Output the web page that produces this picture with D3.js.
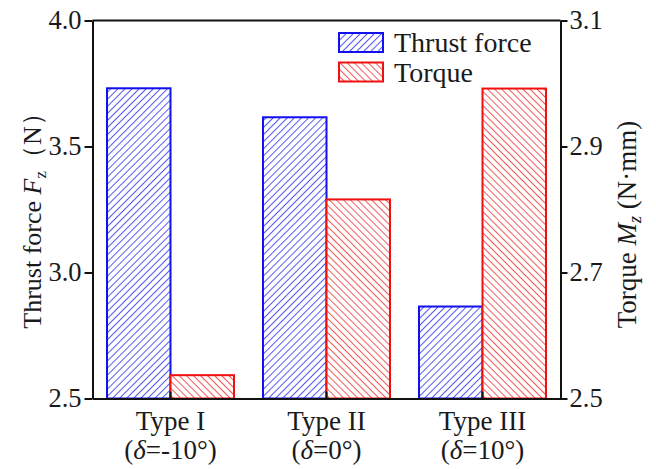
<!DOCTYPE html>
<html>
<head>
<meta charset="utf-8">
<script src="https://cdn.jsdelivr.net/npm/d3@7/dist/d3.min.js"></script>
<style>
  html, body { margin: 0; padding: 0; background: #fff; }
  svg { display: block; }
</style>
</head>
<body>
<svg id="chart" width="656" height="469" font-family="Liberation Serif, Times New Roman, serif"></svg>
<script>
// Drill-point types and their angle δ
const categories = ["Type I", "Type II", "Type III"];
const deltaLabels = ["-10°", "0°", "10°"];

// Series
const seriesNames = ["Thrust force", "Torque"];
const thrustForce = [3.731, 3.616, 2.865];   // N
const torque = [2.537, 2.816, 2.992];        // N·mm

// Tick labels
const leftTicks = [2.5, 3.0, 3.5, 4.0];
const rightTicks = [2.5, 2.7, 2.9, 3.1];

const FONT = "Liberation Serif, Times New Roman, serif";
const INK = "#1a1a1a";
const colors = { "Thrust force": "#1010f0", "Torque": "#f01010" };

const svg = d3.select("#chart");
const L = 92.5, R = 560.5, T = 20.5, B = 398.5;

const x = d3.scaleBand().domain(categories).range([L, R])
  .paddingInner(0.186).paddingOuter(0.093);
const xs = d3.scaleBand().domain(seriesNames).range([0, x.bandwidth()]);
const yL = d3.scaleLinear().domain([2.5, 4.0]).range([B, T]);
const yR = d3.scaleLinear().domain([2.5, 3.1]).range([B, T]);

// Hatch patterns: "/" for thrust force, "\" for torque
const defs = svg.append("defs");
function hatch(id, color, angle) {
  const p = defs.append("pattern").attr("id", id)
    .attr("patternUnits", "userSpaceOnUse")
    .attr("width", 5).attr("height", 5)
    .attr("patternTransform", `rotate(${angle})`);
  p.append("rect").attr("width", 5).attr("height", 5).attr("fill", "#fff");
  p.append("line").attr("x1", 0).attr("y1", 0).attr("x2", 0).attr("y2", 5)
    .attr("stroke", color).attr("stroke-width", 1.4);
}
hatch("hatch-thrust", colors["Thrust force"], 45);
hatch("hatch-torque", colors["Torque"], -45);
const fillOf = { "Thrust force": "url(#hatch-thrust)", "Torque": "url(#hatch-torque)" };

// Bars
const rows = categories.map((c, i) => ({ c, v: [
  { s: "Thrust force", val: thrustForce[i], y: yL },
  { s: "Torque", val: torque[i], y: yR }
]}));

const groups = svg.append("g").selectAll("g").data(rows).join("g")
  .attr("transform", d => `translate(${x(d.c)},0)`);
groups.selectAll("rect").data(d => d.v).join("rect")
  .attr("x", d => xs(d.s))
  .attr("width", xs.bandwidth())
  .attr("y", d => d.y(d.val))
  .attr("height", d => B - d.y(d.val))
  .attr("fill", d => fillOf[d.s])
  .attr("stroke", d => colors[d.s])
  .attr("stroke-width", 2);

// Axes
const axisStyle = g => {
  g.attr("font-family", FONT).attr("font-size", 26.5);
  g.selectAll(".domain, .tick line").attr("stroke", "#111").attr("stroke-width", 2);
  g.selectAll(".tick text").attr("fill", INK);
};

svg.append("g").attr("transform", `translate(${L},0)`)
  .call(d3.axisLeft(yL).tickValues(leftTicks).tickFormat(d3.format(".1f"))
    .tickSize(8).tickSizeOuter(0).tickPadding(3))
  .call(axisStyle);

svg.append("g").attr("transform", `translate(${R},0)`)
  .call(d3.axisRight(yR).tickValues(rightTicks).tickFormat(d3.format(".1f"))
    .tickSize(7).tickSizeOuter(0).tickPadding(2))
  .call(axisStyle);

const xAxis = svg.append("g").attr("transform", `translate(0,${B})`)
  .call(d3.axisBottom(x).tickSize(-7).tickSizeOuter(0).tickFormat(""));
xAxis.selectAll(".domain, .tick line").attr("stroke", "#111").attr("stroke-width", 2);

// Top frame line
svg.append("line").attr("x1", L).attr("x2", R).attr("y1", T).attr("y2", T)
  .attr("stroke", "#111").attr("stroke-width", 2);

// Category labels (two lines)
const catLab = svg.append("g").attr("font-family", FONT).attr("font-size", 27).attr("fill", INK)
  .selectAll("text").data(categories).join("text")
  .attr("text-anchor", "middle");
catLab.append("tspan").attr("y", 430).attr("x", d => x(d) + x.bandwidth() / 2).text(d => d);
catLab.each(function(d, i) {
  const t = d3.select(this).append("tspan").attr("y", 459).attr("x", x(d) + x.bandwidth() / 2);
  t.append("tspan").text("(");
  t.append("tspan").attr("font-style", "italic").text("δ");
  t.append("tspan").text("=" + deltaLabels[i] + ")");
});

// Left axis title
const lt = svg.append("text")
  .attr("transform", `translate(41,${(T + B) / 2 + 5}) rotate(-90)`)
  .attr("text-anchor", "middle").attr("font-family", FONT).attr("font-size", 26).attr("fill", INK);
lt.append("tspan").text("Thrust force ");
lt.append("tspan").attr("font-style", "italic").text("F");
lt.append("tspan").attr("dy", 5).attr("font-size", 17).text("z");
lt.append("tspan").attr("dy", -5).text("（N）");

// Right axis title
const rt = svg.append("text")
  .attr("transform", `translate(636,${(T + B) / 2 + 15}) rotate(-90)`)
  .attr("text-anchor", "middle").attr("font-family", FONT).attr("font-size", 27).attr("fill", INK);
rt.append("tspan").text("Torque ");
rt.append("tspan").attr("font-style", "italic").text("M");
rt.append("tspan").attr("dy", 5).attr("font-size", 18).attr("font-style", "italic").text("z");
rt.append("tspan").attr("dy", -5).text(" (N·mm)");

// Legend
const leg = svg.append("g").attr("font-family", FONT).attr("font-size", 28).attr("fill", INK)
  .selectAll("g").data(seriesNames).join("g")
  .attr("transform", (d, i) => `translate(339,${33 + i * 29.5})`);
leg.append("rect").attr("width", 44).attr("height", 19)
  .attr("fill", d => fillOf[d]).attr("stroke", d => colors[d]).attr("stroke-width", 2);
leg.append("text").attr("x", 55).attr("y", 19).text(d => d);
</script>
</body>
</html>
